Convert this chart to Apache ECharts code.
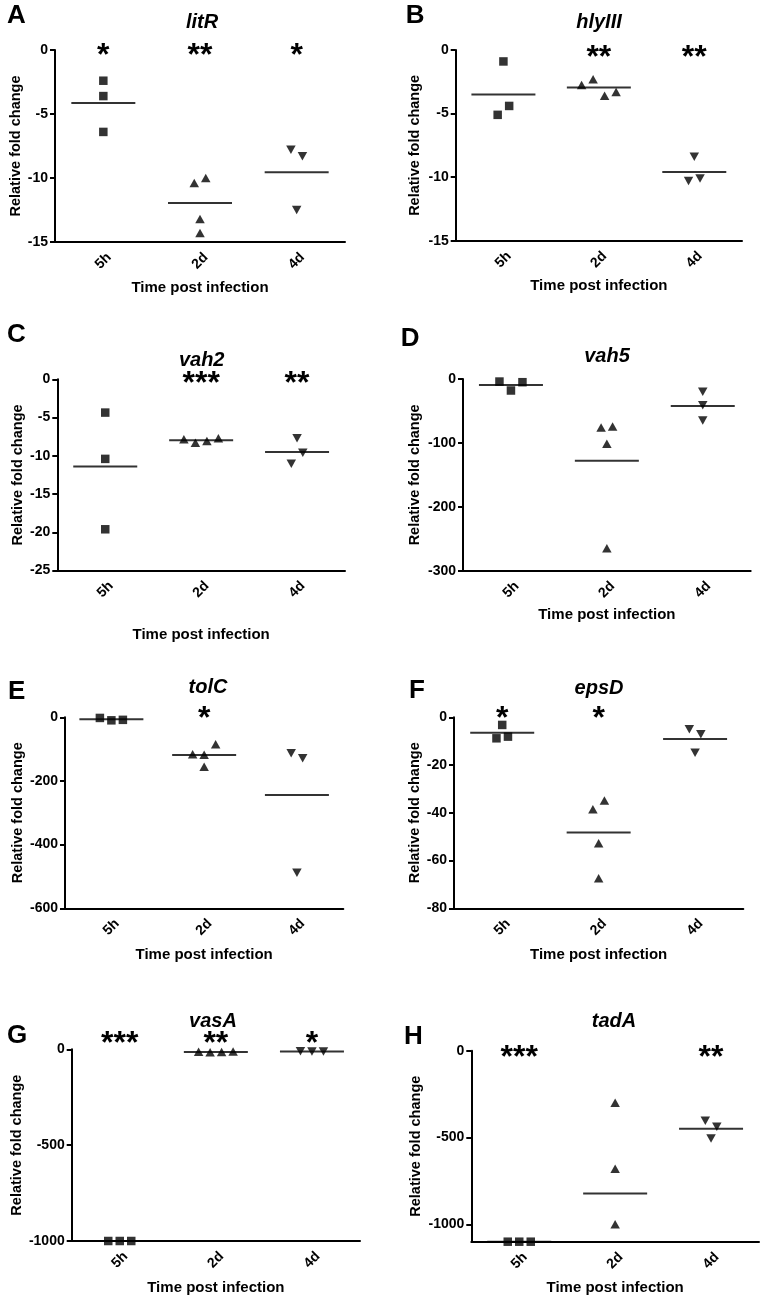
<!DOCTYPE html>
<html>
<head>
<meta charset="utf-8">
<script src="https://cdn.jsdelivr.net/npm/echarts@6/dist/echarts.min.js"></script>
<style>
  html, body { margin: 0; padding: 0; background: #fff; }
  #main { width: 769px; height: 1306px; }
</style>
</head>
<body>
<div id="main"></div>
<script>
const categories = ['5h', '2d', '4d'];

// A - litR
const litR_5h = [-2.4, -3.6, -6.4];
const litR_2d = [-10.4, -10.0, -13.2, -14.3];
const litR_4d = [-7.8, -8.3, -12.5];
const litR_mean = [-4.15, -11.95, -9.55];
const litR_stars = ['*', '**', '*'];
const litR_ticks = [0, -5, -10, -15];

// B - hlyIII
const hlyIII_5h = [-0.9, -5.1, -4.4];
const hlyIII_2d = [-2.75, -2.3, -3.6, -3.3];
const hlyIII_4d = [-8.4, -10.3, -10.1];
const hlyIII_mean = [-3.5, -2.95, -9.6];
const hlyIII_stars = ['', '**', '**'];
const hlyIII_ticks = [0, -5, -10, -15];

// C - vah2
const vah2_5h = [-4.35, -10.4, -19.6];
const vah2_2d = [-7.85, -8.3, -8.05, -7.7];
const vah2_4d = [-7.7, -11.05, -9.6];
const vah2_mean = [-11.4, -7.95, -9.5];
const vah2_stars = ['', '***', '**'];
const vah2_ticks = [0, -5, -10, -15, -20, -25];

// D - vah5
const vah5_5h = [-4, -18, -5];
const vah5_2d = [-76, -74.5, -101.5, -265];
const vah5_4d = [-20, -41, -65];
const vah5_mean = [-9.4, -128, -42.3];
const vah5_stars = ['', '', ''];
const vah5_ticks = [0, -100, -200, -300];

// E - tolC
const tolC_5h = [-2, -9.5, -8];
const tolC_2d = [-116, -118, -85, -155];
const tolC_4d = [-113, -129, -488];
const tolC_mean = [-6.5, -118.5, -244];
const tolC_stars = ['', '*', ''];
const tolC_ticks = [0, -200, -400, -600];

// F - epsD
const epsD_5h = [-3.2, -8.8, -8.1];
const epsD_2d = [-38.5, -34.9, -52.8, -67.4];
const epsD_4d = [-5.0, -7.1, -14.8];
const epsD_mean = [-6.5, -48.3, -9.1];
const epsD_stars = ['*', '*', ''];
const epsD_ticks = [0, -20, -40, -60, -80];

// G - vasA
const vasA_5h = [-1000, -1000, -1000];
const vasA_2d = [-13, -15, -14, -12];
const vasA_4d = [-10, -12, -11];
const vasA_mean = [-1000, -13.5, -12];
const vasA_stars = ['***', '**', '*'];
const vasA_ticks = [0, -500, -1000];

// H - tadA
const tadA_5h = [-1100, -1100, -1100];
const tadA_2d = [-300, -680, -1000];
const tadA_4d = [-404, -438, -505];
const tadA_mean = [-1100, -823, -450];
const tadA_stars = ['***', '', '**'];
const tadA_ticks = [0, -500, -1000];
const tadA_min = -1100;

const FONT = "'Liberation Sans', Arial, Helvetica, sans-serif";
const CLUSTER_PX = 11.4;   // points closer than this (vertically) sit side by side
const SPACING = 11.5;

const panels = [
  { letter: 'A', gene: 'litR', groups: [litR_5h, litR_2d, litR_4d], mean: litR_mean, stars: litR_stars, ticks: litR_ticks,
    grid: { left: 55, top: 50, width: 290, height: 192 }, letterAt: [7, 16], titleAt: [202, 22], starMargin: -6.3, yGap: 30, xGap: 38 },
  { letter: 'B', gene: 'hlyIII', groups: [hlyIII_5h, hlyIII_2d, hlyIII_4d], mean: hlyIII_mean, stars: hlyIII_stars, ticks: hlyIII_ticks,
    grid: { left: 455.7, top: 50, width: 286.3, height: 190.7 }, letterAt: [405.7, 16], titleAt: [599, 22], starMargin: -7.9, yGap: 33.5, xGap: 38 },
  { letter: 'C', gene: 'vah2', groups: [vah2_5h, vah2_2d, vah2_4d], mean: vah2_mean, stars: vah2_stars, ticks: vah2_ticks,
    grid: { left: 57.3, top: 379.3, width: 287.7, height: 191.3 }, letterAt: [7, 335], titleAt: [201.7, 360], starMargin: -5.3, yGap: 32, xGap: 57 },
  { letter: 'D', gene: 'vah5', groups: [vah5_5h, vah5_2d, vah5_4d], mean: vah5_mean, stars: vah5_stars, ticks: vah5_ticks,
    grid: { left: 463, top: 379, width: 287.7, height: 191.7 }, letterAt: [400.7, 339], titleAt: [607, 356], starMargin: -7, yGap: 41, xGap: 37 },
  { letter: 'E', gene: 'tolC', groups: [tolC_5h, tolC_2d, tolC_4d], mean: tolC_mean, stars: tolC_stars, ticks: tolC_ticks,
    grid: { left: 65, top: 717.3, width: 278.3, height: 191 }, letterAt: [8, 692], titleAt: [208, 687.5], starMargin: -1.5, yGap: 40, xGap: 39 },
  { letter: 'F', gene: 'epsD', groups: [epsD_5h, epsD_2d, epsD_4d], mean: epsD_mean, stars: epsD_stars, ticks: epsD_ticks,
    grid: { left: 454, top: 717.3, width: 289.3, height: 191 }, letterAt: [409, 691], titleAt: [599, 688], starMargin: -1.5, yGap: 32, xGap: 39 },
  { letter: 'G', gene: 'vasA', groups: [vasA_5h, vasA_2d, vasA_4d], mean: vasA_mean, stars: vasA_stars, ticks: vasA_ticks,
    grid: { left: 71.7, top: 1049.3, width: 288.3, height: 191.7 }, letterAt: [7, 1036], titleAt: [213, 1021.7], starMargin: 5, yGap: 44.5, xGap: 39 },
  { letter: 'H', gene: 'tadA', groups: [tadA_5h, tadA_2d, tadA_4d], mean: tadA_mean, stars: tadA_stars, ticks: tadA_ticks, min: tadA_min,
    grid: { left: 471.3, top: 1050.7, width: 287.7, height: 191 }, letterAt: [404, 1037], titleAt: [614, 1021.7], starMargin: -7, yGap: 48, xGap: 39 }
];

// marker per time point: square, triangle, inverted triangle
const markers = [
  { symbol: 'rect', size: 8.5, rotate: 0 },
  { symbol: 'triangle', size: [9.5, 8.5], rotate: 0 },
  { symbol: 'triangle', size: [9.5, 8.5], rotate: 180 }
];

// spread overlapping points sideways (Prism-like scatter dot plot)
function spread(values, pxPerUnit) {
  const ys = values.map(v => -v * pxPerUnit);
  const order = values.map((v, i) => i).sort((a, b) => ys[a] - ys[b]);
  const clusters = [];
  let cur = [order[0]];
  for (let k = 1; k < order.length; k++) {
    if (ys[order[k]] - ys[order[k - 1]] < CLUSTER_PX) cur.push(order[k]);
    else { clusters.push(cur); cur = [order[k]]; }
  }
  clusters.push(cur);
  const off = values.map(() => 0);
  clusters.forEach(c => {
    c.sort((a, b) => a - b);
    c.forEach((idx, j) => { off[idx] = (j - (c.length - 1) / 2) * SPACING; });
  });
  return off;
}

const grids = [], xAxes = [], yAxes = [], series = [], graphics = [];

panels.forEach((p, i) => {
  const min = p.min !== undefined ? p.min : p.ticks[p.ticks.length - 1];
  const pxPerUnit = p.grid.height / (0 - min);
  const stars = p.stars;

  grids.push(Object.assign({ containLabel: false, outerBoundsMode: 'none' }, p.grid));

  xAxes.push({
    type: 'category', gridIndex: i, data: categories, position: 'bottom', boundaryGap: true,
    axisLine: { onZero: false, lineStyle: { color: '#000', width: 2 } },
    axisTick: { alignWithLabel: true, length: 5, lineStyle: { color: '#000', width: 2 } },
    axisLabel: { interval: 0, rotate: 45, margin: 19, align: 'center', verticalAlign: 'middle',
      color: '#000', fontSize: 14, fontWeight: 'bold', fontFamily: FONT },
    splitLine: { show: false },
    name: 'Time post infection', nameLocation: 'middle', nameGap: p.xGap,
    nameTextStyle: { color: '#000', fontSize: 15, fontWeight: 'bold', fontFamily: FONT }
  });
  // top axis only carries the significance stars
  xAxes.push({
    type: 'category', gridIndex: i, data: categories, position: 'top', boundaryGap: true,
    axisLine: { show: false, onZero: false }, axisTick: { show: false }, splitLine: { show: false },
    axisLabel: {
      interval: 0, margin: p.starMargin, verticalAlign: 'middle', color: '#000',
      fontSize: 32, fontWeight: 'bold', fontFamily: FONT,
      formatter: (v, idx) => stars[idx]
    }
  });

  yAxes.push({
    type: 'value', gridIndex: i, min: min, max: 0,
    axisLine: { show: true, onZero: false, lineStyle: { color: '#000', width: 2 } },
    axisTick: { show: true, length: 5, lineStyle: { color: '#000', width: 2 }, customValues: p.ticks },
    axisLabel: { customValues: p.ticks, margin: 7, color: '#000', fontSize: 14, fontWeight: 'bold', fontFamily: FONT,
      formatter: v => String(v) },
    splitLine: { show: false },
    name: 'Relative fold change', nameLocation: 'middle', nameGap: p.yGap,
    nameTextStyle: { color: '#000', fontSize: 14.5, fontWeight: 'bold', fontFamily: FONT }
  });

  // mean bars
  series.push({
    type: 'scatter', xAxisIndex: i * 2, yAxisIndex: i, clip: false, silent: true,
    symbol: 'rect', symbolSize: [64, 2], itemStyle: { color: '#000' },
    data: p.mean.map((m, k) => [k, m])
  });

  p.groups.forEach((vals, k) => {
    const off = spread(vals, pxPerUnit);
    const mk = markers[k];
    series.push({
      type: 'scatter', xAxisIndex: i * 2, yAxisIndex: i, clip: false, silent: true,
      symbol: mk.symbol, symbolSize: mk.size, symbolRotate: mk.rotate,
      itemStyle: { color: '#000' },
      data: vals.map((v, j) => ({ value: [k, v], symbolOffset: [off[j], 0] }))
    });
  });

  graphics.push({
    type: 'text', left: p.letterAt[0], top: p.letterAt[1] - 13,
    style: { text: p.letter, fill: '#000', font: 'bold 26px ' + FONT }
  });
  graphics.push({
    type: 'text', x: p.titleAt[0], y: p.titleAt[1],
    style: { text: p.gene, fill: '#000', font: 'italic bold 20px ' + FONT, align: 'center', verticalAlign: 'middle' }
  });
});

const chart = echarts.init(document.getElementById('main'));
chart.setOption({
  backgroundColor: '#fff',
  animation: false,
  grid: grids,
  xAxis: xAxes,
  yAxis: yAxes,
  series: series,
  graphic: graphics
});
</script>
</body>
</html>
